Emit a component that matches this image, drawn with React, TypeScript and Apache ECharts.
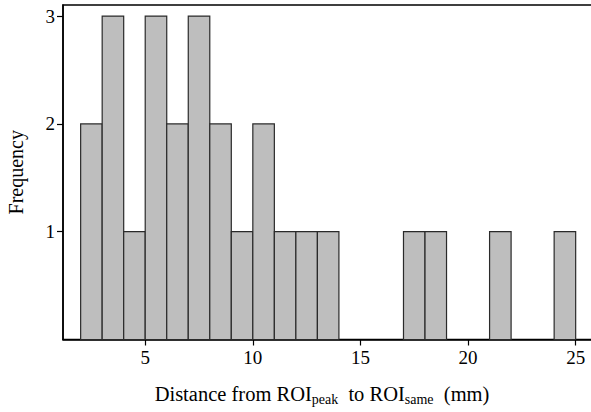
import React, { useEffect, useRef } from "react";
import * as echarts from "echarts";

const binStarts = [2, 3, 4, 5, 6, 7, 8, 9, 10, 11, 12, 13, 17, 18, 21, 24];
const counts = [2, 3, 1, 3, 2, 3, 2, 1, 2, 1, 1, 1, 1, 1, 1, 1];
const binWidth = 1;
const xTicks = [5, 10, 15, 20, 25];
const yTicks = [1, 2, 3];

const FONT = "Liberation Serif";

export default function App() {
  const ref = useRef<HTMLDivElement>(null);
  useEffect(() => {
    if (!ref.current) return;
    const chart = echarts.init(ref.current, null, { renderer: "svg" });
    const data = binStarts.map((s, i) => [s, counts[i]]);
    chart.setOption({
      animation: false,
      backgroundColor: "#fff",
      textStyle: { fontFamily: FONT, color: "#000" },
      grid: {
        left: 63,
        top: 5,
        width: 540,
        height: 334.5,
        show: true,
        borderColor: "#000",
        borderWidth: 1.5,
        containLabel: false,
        outerBoundsMode: "none",
      },
      xAxis: {
        type: "value",
        min: 1.18,
        max: 26.27,
        splitLine: { show: false },
        axisLine: { show: true, lineStyle: { color: "#000", width: 1.5 } },
        axisTick: {
          show: true,
          length: 6,
          lineStyle: { color: "#000", width: 1.2 },
          customValues: xTicks,
        },
        axisLabel: {
          customValues: xTicks,
          color: "#000",
          fontFamily: FONT,
          fontSize: 19,
          margin: 8,
        },
        name: "Distance from ROI{sub|peak}  to ROI{sub|same}  (mm)",
        nameLocation: "middle",
        nameGap: 41,
        nameTextStyle: {
          color: "#000",
          fontFamily: FONT,
          fontSize: 20.5,
          lineHeight: 26,
          padding: [0, 22, 0, 0],
          rich: {
            sub: {
              fontFamily: FONT,
              fontSize: 14,
              lineHeight: 13,
              color: "#000",
              verticalAlign: "bottom",
            },
          },
        },
      },
      yAxis: {
        type: "value",
        min: 0,
        max: 3.103,
        splitLine: { show: false },
        axisLine: { show: true, lineStyle: { color: "#000", width: 1.5 } },
        axisTick: {
          show: true,
          length: 6,
          lineStyle: { color: "#000", width: 1.2 },
          customValues: yTicks,
        },
        axisLabel: {
          customValues: yTicks,
          color: "#000",
          fontFamily: FONT,
          fontSize: 19,
          margin: 8,
        },
        name: "Frequency",
        nameLocation: "middle",
        nameGap: 37,
        nameTextStyle: {
          color: "#000",
          fontFamily: FONT,
          fontSize: 20,
        },
      },
      series: [
        {
          type: "custom",
          data,
          renderItem: (params: any, api: any) => {
            const x0 = api.value(0);
            const y = api.value(1);
            const p1 = api.coord([x0, y]);
            const p2 = api.coord([x0 + binWidth, 0]);
            return {
              type: "rect",
              shape: { x: p1[0], y: p1[1], width: p2[0] - p1[0], height: p2[1] - p1[1] },
              style: { fill: "#bebebe", stroke: "#2a2a2a", lineWidth: 1.2 },
            };
          },
        },
      ],
    });
    return () => chart.dispose();
  }, []);
  return (
    <div
      ref={ref}
      style={{ position: "fixed", left: 0, top: 0, width: 591, height: 412, background: "#fff" }}
    />
  );
}
